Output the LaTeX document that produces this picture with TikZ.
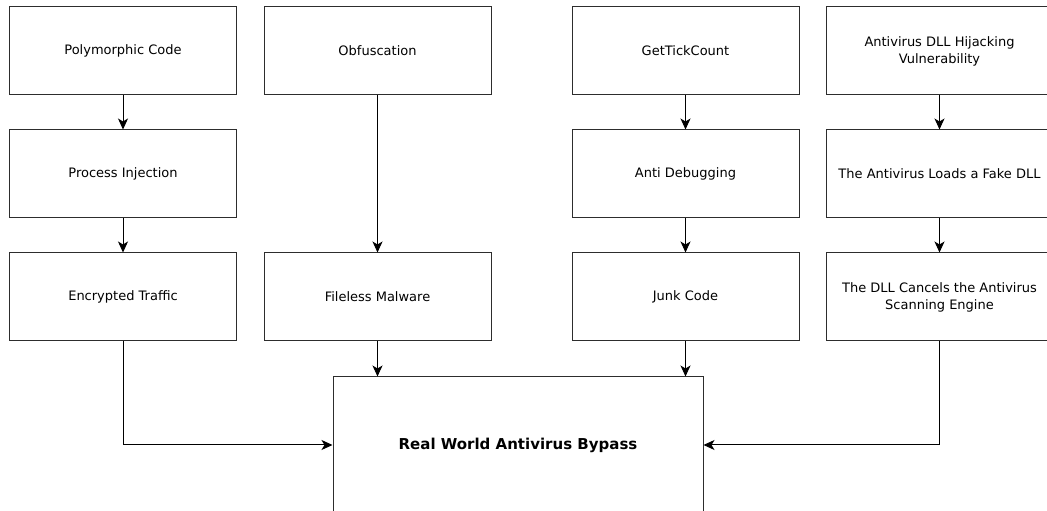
\documentclass[tikz,border=0pt]{standalone}
\usepackage{fontspec}
\setmainfont{DejaVu Sans}
\usepackage{tikz}
\usetikzlibrary{positioning,arrows.meta}
\usepackage{xcolor}
\definecolor{edgegray}{RGB}{45,45,45}

\begin{document}
\begin{tikzpicture}[x=1pt,y=1pt,
  stage/.style={rectangle,draw=edgegray,line width=1pt,fill=white,
    font=\fontsize{13}{17}\selectfont,align=center,
    minimum width=227pt,minimum height=88pt,inner sep=2pt},
  goal/.style={stage,font=\fontsize{15}{18}\selectfont\bfseries,
    minimum width=370pt,minimum height=136pt},
  flow/.style={-{Stealth[length=11pt,width=10pt,inset=3pt]},draw=black,line width=1pt}]
\useasboundingbox (0,0) rectangle (1047,511);
\fill[white] (0,0) rectangle (1047,511);
\clip (0,0) rectangle (1047,511);

% first row
\node[stage] (poly) at (123,460) {Polymorphic Code};
\node[stage] (obf) at (377.5,460) {Obfuscation};
\node[stage] (tick) at (685.5,460) {GetTickCount};
\node[stage] (hijack) at (939.5,460) {Antivirus DLL Hijacking\\Vulnerability};

% second and third row
\node[stage,below=34pt of poly] (inject) {Process Injection};
\node[stage,below=34pt of inject] (crypt) {Encrypted Traffic};
\node[stage,below=157pt of obf] (fileless) {Fileless Malware};
\node[stage,below=34pt of tick] (antidbg) {Anti Debugging};
\node[stage,below=34pt of antidbg] (junk) {Junk Code};
\node[stage,below=34pt of hijack] (fakedll) {The Antivirus Loads a Fake DLL};
\node[stage,below=34pt of fakedll] (cancel) {The DLL Cancels the Antivirus\\Scanning Engine};

\node[goal] (bypass) at (518,66) {Real World Antivirus Bypass};

\draw[flow] (poly) -- (inject);
\draw[flow] (inject) -- (crypt);
\draw[flow] (obf) -- (fileless);
\draw[flow] (tick) -- (antidbg);
\draw[flow] (antidbg) -- (junk);
\draw[flow] (hijack) -- (fakedll);
\draw[flow] (fakedll) -- (cancel);

\draw[flow] (crypt.south) |- (bypass.west);
\draw[flow] (fileless.south) -- (fileless.south |- bypass.north);
\draw[flow] (junk.south) -- (junk.south |- bypass.north);
\draw[flow] (cancel.south) |- (bypass.east);
\end{tikzpicture}
\end{document}
